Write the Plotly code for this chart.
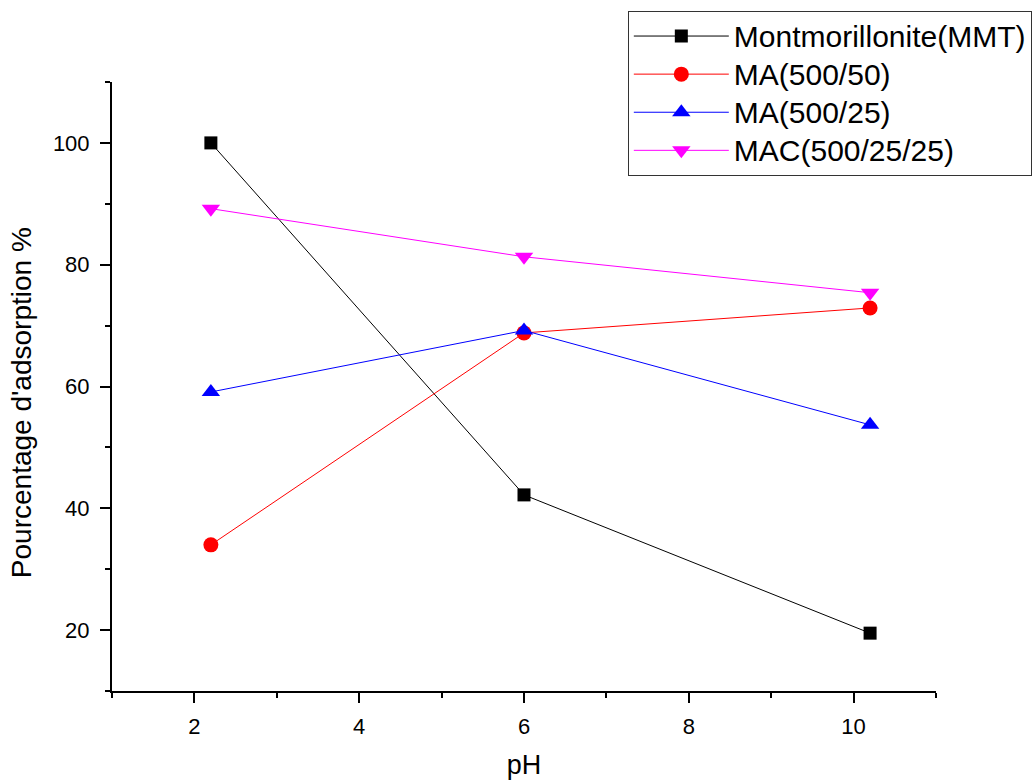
import plotly.graph_objects as go

ph = [2.2, 6.0, 10.2]
series_names = ["Montmorillonite(MMT)", "MA(500/50)", "MA(500/25)", "MAC(500/25/25)"]
mmt = [100.0, 42.2, 19.5]
ma_500_50 = [34.0, 68.8, 72.9]
ma_500_25 = [59.1, 69.2, 53.7]
mac = [89.2, 81.3, 75.4]
x_ticks = [2, 4, 6, 8, 10]
y_ticks = [20, 40, 60, 80, 100]

styles = [
    dict(color="#000000", symbol="square", size=13),
    dict(color="#FF0000", symbol="circle", size=15),
    dict(color="#0000FF", symbol="triangle-up", size=16),
    dict(color="#FF00FF", symbol="triangle-down", size=16),
]

fig = go.Figure()
for name, vals, st in zip(series_names, [mmt, ma_500_50, ma_500_25, mac], styles):
    fig.add_trace(go.Scatter(
        x=ph, y=vals, name='<span style="font-size:30px">' + name + '</span>',
        mode="lines+markers",
        line=dict(color=st["color"], width=1),
        marker=dict(color=st["color"], symbol=st["symbol"], size=st["size"],
                    line=dict(width=0)),
    ))

font_family = "Liberation Sans, Arial, sans-serif"
axis_common = dict(
    showline=True, linecolor="black", linewidth=2,
    ticks="outside", ticklen=10, tickwidth=2, tickcolor="black",
    showgrid=False, zeroline=False, mirror=False,
    tickfont=dict(family=font_family, size=22, color="black"),
)

fig.update_xaxes(
    range=[1, 11], tickvals=x_ticks, ticklabelstandoff=5,
    minor=dict(dtick=1, tick0=1, ticks="outside", ticklen=5, tickwidth=2, tickcolor="black", showgrid=False),
    title=dict(text="pH", font=dict(family=font_family, size=27, color="black"), standoff=20),
    **axis_common,
)
fig.update_yaxes(
    range=[10, 110], tickvals=y_ticks, ticklabelstandoff=6,
    minor=dict(dtick=10, tick0=10, ticks="outside", ticklen=5, tickwidth=2, tickcolor="black", showgrid=False),
    **axis_common,
)

fig.add_annotation(
    text="Pourcentage d'adsorption %", textangle=-90,
    xref="paper", yref="paper", x=-0.109, y=0.473,
    xanchor="center", yanchor="middle", showarrow=False,
    font=dict(family=font_family, size=28, color="black"),
)

fig.update_layout(
    width=1032, height=780,
    margin=dict(l=112, r=96, t=82, b=89, autoexpand=False),
    paper_bgcolor="white", plot_bgcolor="white",
    font=dict(family=font_family, color="black"),
    showlegend=True,
    legend=dict(
        x=0.626, y=1.1166, xanchor="left", yanchor="top",
        bgcolor="white", bordercolor="#333333", borderwidth=1,
        font=dict(family=font_family, size=27, color="black"),
        itemwidth=95, tracegroupgap=0,
    ),
)

fig.write_html("out.html")
